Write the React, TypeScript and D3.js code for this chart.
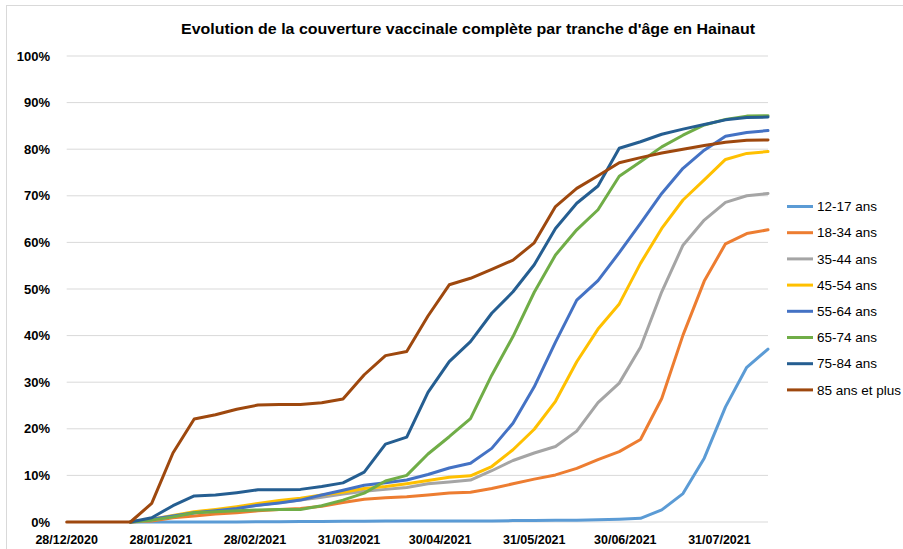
import React from "react";
import * as d3 from "d3";

// weekly points
const dates = [
  "2020-12-28", "2021-01-04", "2021-01-11", "2021-01-18", "2021-01-25", "2021-02-01",
  "2021-02-08", "2021-02-15", "2021-02-22", "2021-03-01", "2021-03-08", "2021-03-15",
  "2021-03-22", "2021-03-29", "2021-04-05", "2021-04-12", "2021-04-19", "2021-04-26",
  "2021-05-03", "2021-05-10", "2021-05-17", "2021-05-24", "2021-05-31", "2021-06-07",
  "2021-06-14", "2021-06-21", "2021-06-28", "2021-07-05", "2021-07-12", "2021-07-19",
  "2021-07-26", "2021-08-02", "2021-08-09", "2021-08-16",
];

const tickDates = [
  "2020-12-28", "2021-01-28", "2021-02-28", "2021-03-31",
  "2021-04-30", "2021-05-31", "2021-06-30", "2021-07-31",
];

const yTicks = [0, 10, 20, 30, 40, 50, 60, 70, 80, 90, 100];

const ageGroups = [
  "12-17 ans", "18-34 ans", "35-44 ans", "45-54 ans",
  "55-64 ans", "65-74 ans", "75-84 ans", "85 ans et plus",
];

const colors = ["#5B9BD5", "#ED7D31", "#A5A5A5", "#FFC000", "#4472C4", "#70AD47", "#255E91", "#9E480E"];

const n = null;
const v12_17 = [n, n, n, 0, 0, 0, 0, 0, 0, 0.05, 0.05, 0.1, 0.1, 0.15, 0.15, 0.2, 0.2, 0.2, 0.2, 0.2, 0.2, 0.3, 0.3, 0.4, 0.4, 0.5, 0.6, 0.8, 2.6, 6.1, 13.7, 24.7, 33.2, 37.1];
const v18_34 = [n, n, n, 0, 0.2, 0.9, 1.3, 1.7, 2.0, 2.4, 2.7, 2.9, 3.4, 4.2, 4.9, 5.2, 5.4, 5.8, 6.2, 6.4, 7.2, 8.2, 9.2, 10.1, 11.5, 13.4, 15.1, 17.7, 26.5, 40.1, 51.7, 59.7, 61.9, 62.7];
const v35_44 = [n, n, n, 0, 0.4, 1.2, 2.0, 2.5, 3.0, 3.6, 4.2, 4.7, 5.3, 6.0, 6.6, 7.0, 7.4, 8.2, 8.6, 9.0, 11.0, 13.2, 14.8, 16.2, 19.5, 25.6, 29.8, 37.5, 49.4, 59.4, 64.8, 68.6, 70.0, 70.5];
const v45_54 = [n, n, n, 0, 0.6, 1.4, 2.2, 2.7, 3.3, 4.0, 4.6, 5.1, 5.8, 6.4, 7.2, 7.6, 8.2, 8.9, 9.6, 9.9, 11.9, 15.5, 19.9, 25.9, 34.4, 41.4, 46.8, 55.5, 63.0, 69.1, 73.4, 77.8, 79.1, 79.5];
const v55_64 = [n, n, n, 0, 0.6, 1.3, 2.0, 2.4, 2.9, 3.6, 4.1, 4.7, 5.8, 6.8, 7.9, 8.4, 9.0, 10.2, 11.6, 12.6, 15.8, 21.2, 29.0, 38.6, 47.6, 51.8, 57.8, 64.1, 70.5, 75.9, 79.8, 82.8, 83.6, 84.0];
const v65_74 = [n, n, n, 0, 0.4, 1.1, 2.0, 2.2, 2.4, 2.6, 2.7, 2.7, 3.5, 4.7, 6.2, 8.8, 10.0, 14.6, 18.3, 22.2, 31.5, 39.8, 49.3, 57.3, 62.7, 67.0, 74.2, 77.3, 80.5, 83.0, 85.2, 86.4, 87.1, 87.2];
const v75_84 = [n, n, n, 0, 0.9, 3.5, 5.6, 5.8, 6.3, 6.9, 6.9, 7.0, 7.6, 8.4, 10.7, 16.7, 18.2, 27.8, 34.4, 38.7, 44.8, 49.4, 55.2, 63.0, 68.4, 72.1, 80.2, 81.6, 83.2, 84.3, 85.3, 86.3, 86.8, 86.9];
const v85plus = [0, 0, 0, 0, 4.0, 14.8, 22.1, 23.0, 24.2, 25.1, 25.2, 25.2, 25.6, 26.4, 31.6, 35.7, 36.6, 44.2, 50.9, 52.3, 54.2, 56.2, 59.9, 67.7, 71.6, 74.3, 77.1, 78.2, 79.2, 80.0, 80.8, 81.5, 81.9, 82.0];

const seriesValues = [v12_17, v18_34, v35_44, v45_54, v55_64, v65_74, v75_84, v85plus];

const parse = d3.timeParse("%Y-%m-%d");
const fmt = d3.timeFormat("%d/%m/%Y");

export default function App() {
  const W = 903, H = 549;
  const xDates = dates.map((d) => parse(d) as Date);
  const x = d3.scaleTime().domain([xDates[0], xDates[xDates.length - 1]]).range([66.7, 768]);
  const y = d3.scaleLinear().domain([0, 100]).range([522, 56]);

  const line = d3.line<number | null>()
    .defined((d) => d !== null)
    .x((d, i) => x(xDates[i]))
    .y((d) => y(d as number));

  const font = "'Liberation Sans', Arial, sans-serif";

  return (
    <svg width={W} height={H} style={{ position: "absolute", left: 0, top: 0, background: "#fff" }} fontFamily={font}>
      <rect x={6.5} y={5.5} width={W} height={H + 20} fill="#fff" stroke="#d9d9d9" />
      <text x={468} y={34} textAnchor="middle" fontSize={15.5} fontWeight="bold" fill="#000"
        textLength={574} lengthAdjust="spacingAndGlyphs">
        Evolution de la couverture vaccinale complète par tranche d'âge en Hainaut
      </text>
      {yTicks.map((t) => (
        <g key={t}>
          <line x1={x.range()[0]} x2={x.range()[1]} y1={y(t)} y2={y(t)} stroke="#d9d9d9" strokeWidth={1} />
          <text x={50} y={y(t)} dy="0.35em" textAnchor="end" fontSize={13} fontWeight="bold" fill="#000">
            {t}%
          </text>
        </g>
      ))}
      {tickDates.map((d) => {
        const dt = parse(d) as Date;
        return (
          <text key={d} x={x(dt)} y={544} textAnchor="middle" fontSize={12.5} fontWeight="bold" fill="#000">
            {fmt(dt)}
          </text>
        );
      })}
      {seriesValues.map((vals, k) => (
        <path key={ageGroups[k]} d={line(vals) || ""} fill="none" stroke={colors[k]} strokeWidth={3}
          strokeLinejoin="round" strokeLinecap="round" />
      ))}
      {ageGroups.map((g, k) => {
        const ly = 206.5 + k * 26.2;
        return (
          <g key={g}>
            <line x1={787} x2={813} y1={ly} y2={ly} stroke={colors[k]} strokeWidth={3} />
            <text x={817} y={ly} dy="0.35em" fontSize={13.5} fill="#000">{g}</text>
          </g>
        );
      })}
    </svg>
  );
}
